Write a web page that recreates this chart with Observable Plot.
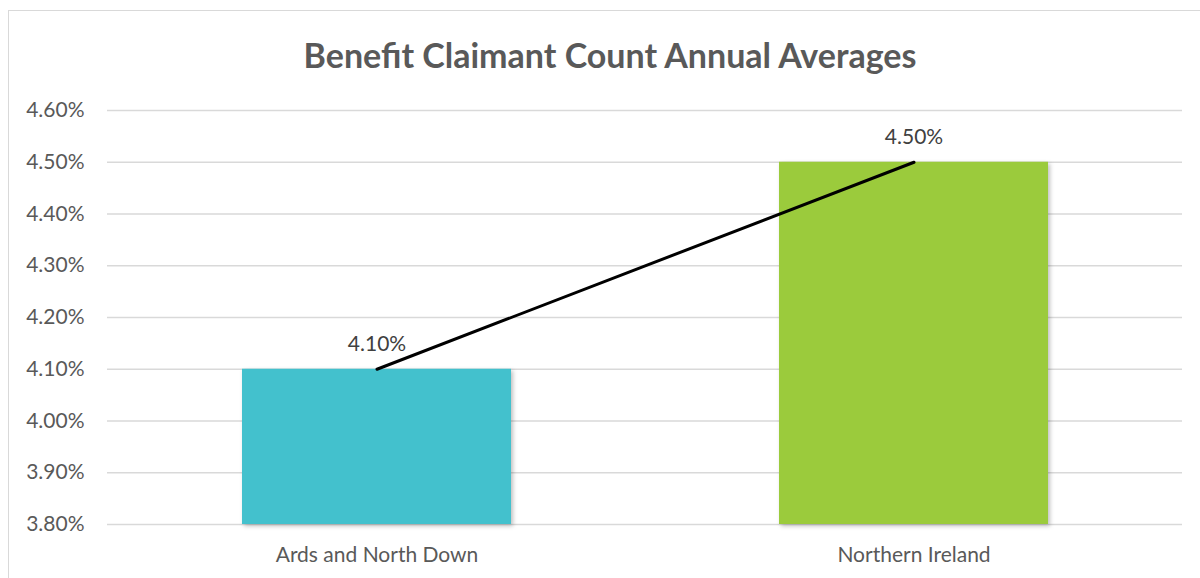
<!DOCTYPE html>
<html>
<head>
<meta charset="utf-8">
<script src="https://cdn.jsdelivr.net/npm/d3@7"></script>
<script src="https://cdn.jsdelivr.net/npm/@observablehq/plot@0.6"></script>
<style>
  html, body { margin: 0; padding: 0; background: #fff; overflow: hidden; }
  body { width: 1200px; height: 578px; position: relative; font-family: Lato, "Open Sans", sans-serif; }
  #frame { position: absolute; left: 8px; top: 10px; width: 1300px; height: 700px; border: 1.5px solid #d9d9d9; box-sizing: border-box; }
  #title { position: absolute; left: 0; top: 10px; width: 1220px; height: 80px; line-height: 90px; text-align: center; font-size: 34px; font-weight: bold; color: #595959; }
  #chart { position: absolute; left: 0; top: 90px; }
</style>
</head>
<body>
<div id="frame"></div>
<div id="title">Benefit Claimant Count Annual Averages</div>
<div id="chart"></div>
<script>
const categories = ["Ards and North Down", "Northern Ireland"];
const values = [4.10, 4.50];
const colors = ["#43C1CD", "#9BCB3C"];
const yTicks = [3.80, 3.90, 4.00, 4.10, 4.20, 4.30, 4.40, 4.50, 4.60];

const data = categories.map((c, i) => ({ category: c, value: values[i], color: colors[i] }));
const yMin = yTicks[0];
const fmt = d => d.toFixed(2) + "%";

const plot = Plot.plot({
  width: 1200,
  height: 488,
  marginLeft: 107,
  marginRight: 18,
  marginTop: 20,
  marginBottom: 54,
  style: { fontFamily: "Lato, 'Open Sans', sans-serif", fontSize: "21px", color: "#595959", background: "transparent" },
  x: { domain: categories, paddingInner: 0.5, paddingOuter: 0.25, label: null, tickSize: 0, tickPadding: 23 },
  y: { domain: [yTicks[0], yTicks[yTicks.length - 1]], ticks: yTicks, tickFormat: fmt, label: null, tickSize: 0, tickPadding: 23 },
  marks: [
    Plot.ruleY(yTicks, { stroke: "#d9d9d9", strokeWidth: 1.5 }),
    Plot.barY(data, { x: "category", y1: yMin, y2: "value", fill: "color" }),
    Plot.line(data, { x: "category", y: "value", stroke: "#000", strokeWidth: 3 }),
    Plot.text(data, { x: "category", y: "value", text: d => fmt(d.value), dy: -25, fill: "#404040", fontSize: 21 })
  ]
});
document.getElementById("chart").appendChild(plot);
const barG = plot.querySelector('g[aria-label="bar"]');
if (barG) barG.style.filter = "drop-shadow(2px 2px 2px rgba(0,0,0,0.25))";
</script>
</body>
</html>
